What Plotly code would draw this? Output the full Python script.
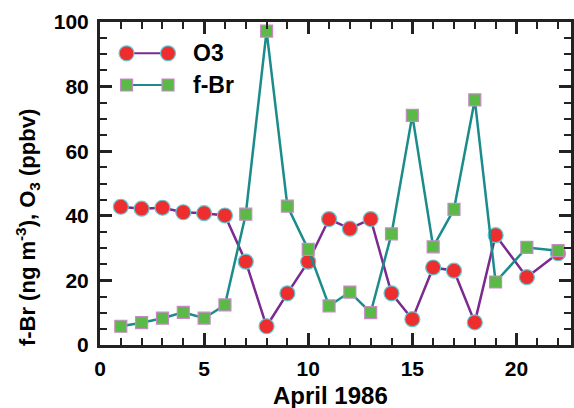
import plotly.graph_objects as go

days = [1, 2, 3, 4, 5, 6, 7, 8, 9, 10, 11, 12, 13, 14, 15, 16, 17, 18, 19, 20.5, 22]
o3 = [42.8, 42.2, 42.5, 41.1, 40.8, 40.1, 25.8, 5.8, 16.0, 25.8, 39.0, 36.0, 39.0, 16.0, 8.0, 24.0, 23.0, 7.0, 34.0, 21.0, 28.4]
fbr = [5.8, 6.9, 8.3, 10.1, 8.3, 12.4, 40.5, 97.2, 43.0, 29.6, 12.1, 16.4, 10.0, 34.4, 71.1, 30.4, 42.0, 75.9, 19.5, 30.2, 29.2]
series_names = ["O3", "f-Br"]
x_ticks = [0, 5, 10, 15, 20]
y_ticks = [0, 20, 40, 60, 80, 100]

FONT = "Liberation Sans"
RED = "#ee2e2e"
CYAN = "#5fcad6"
GREEN = "#5bb947"
PINK = "#c58ac6"
PURPLE = "#7b2a8f"
TEAL = "#1b8b8b"

fig = go.Figure()
fig.add_trace(go.Scatter(x=days, y=o3, mode="lines+markers", name=series_names[0],
                         line=dict(color=PURPLE, width=2.5),
                         marker=dict(symbol="circle", size=15, color=RED, line=dict(color=CYAN, width=1.2)),
                         showlegend=False))
fig.add_trace(go.Scatter(x=days, y=fbr, mode="lines+markers", name=series_names[1],
                         line=dict(color=TEAL, width=2.5),
                         marker=dict(symbol="square", size=12, color=GREEN, line=dict(color=PINK, width=1.2)),
                         showlegend=False))

# legend glyphs drawn on an overlay axis (0..1 of plot area)
leg_x = [0.0564, 0.1444]
leg_y = [0.903, 0.805]
fig.add_trace(go.Scatter(x=leg_x, y=[leg_y[0]] * 2, xaxis="x2", yaxis="y2", mode="lines+markers",
                         line=dict(color=PURPLE, width=2),
                         marker=dict(symbol="circle", size=15, color=RED, line=dict(color=CYAN, width=1.2)),
                         showlegend=False, hoverinfo="skip"))
fig.add_trace(go.Scatter(x=leg_x, y=[leg_y[1]] * 2, xaxis="x2", yaxis="y2", mode="lines+markers",
                         line=dict(color=TEAL, width=2),
                         marker=dict(symbol="square", size=12, color=GREEN, line=dict(color=PINK, width=1.2)),
                         showlegend=False, hoverinfo="skip"))
for name, yy in zip(series_names, leg_y):
    fig.add_annotation(x=0.194, y=yy, xref="x2", yref="y2", text=name, showarrow=False,
                       xanchor="left", yanchor="middle",
                       font=dict(family=FONT, size=23, color="black", weight="bold"))

axis_common = dict(showline=True, linecolor="#222", linewidth=3, mirror="ticks",
                   ticks="inside", tickcolor="#222", tickwidth=2.5, ticklen=12,
                   showgrid=False, zeroline=False,
                   tickfont=dict(family=FONT, size=21, color="black", weight="bold"))

fig.update_layout(
    width=574, height=408,
    margin=dict(l=100, r=0, t=22, b=63),
    plot_bgcolor="white", paper_bgcolor="white",
    xaxis=dict(range=[0, 22.62], tickvals=x_ticks, ticktext=[str(v) for v in x_ticks],
               minor=dict(dtick=1, tick0=0, ticks="inside", ticklen=7, tickwidth=2.2, tickcolor="#222"),
               ticklabelstandoff=3,
               **axis_common),
    yaxis=dict(range=[0, 100], tickvals=y_ticks, ticktext=[str(v) for v in y_ticks],
               minor=dict(dtick=5, tick0=0, ticks="inside", ticklen=7, tickwidth=2.2, tickcolor="#222"),
               ticklabelstandoff=4,
               **axis_common),
    xaxis2=dict(range=[0, 1], overlaying="x", anchor="y2", visible=False, domain=[0, 1]),
    yaxis2=dict(range=[0, 1], overlaying="y", anchor="x2", visible=False, domain=[0, 1]),
)

fig.add_annotation(x=0.49, y=-0.156, xref="paper", yref="paper",
                   text="April 1986", showarrow=False, xanchor="center", yanchor="middle",
                   font=dict(family=FONT, size=24, color="black", weight="bold"))

fig.add_annotation(x=-0.155, y=0.365, xref="paper", yref="paper", textangle=-90,
                   text="f-Br (ng m<sup>-3</sup>), O<sub>3</sub> (ppbv)", showarrow=False,
                   xanchor="center", yanchor="middle",
                   font=dict(family=FONT, size=22, color="black", weight="bold"))

fig.write_html("out.html")
